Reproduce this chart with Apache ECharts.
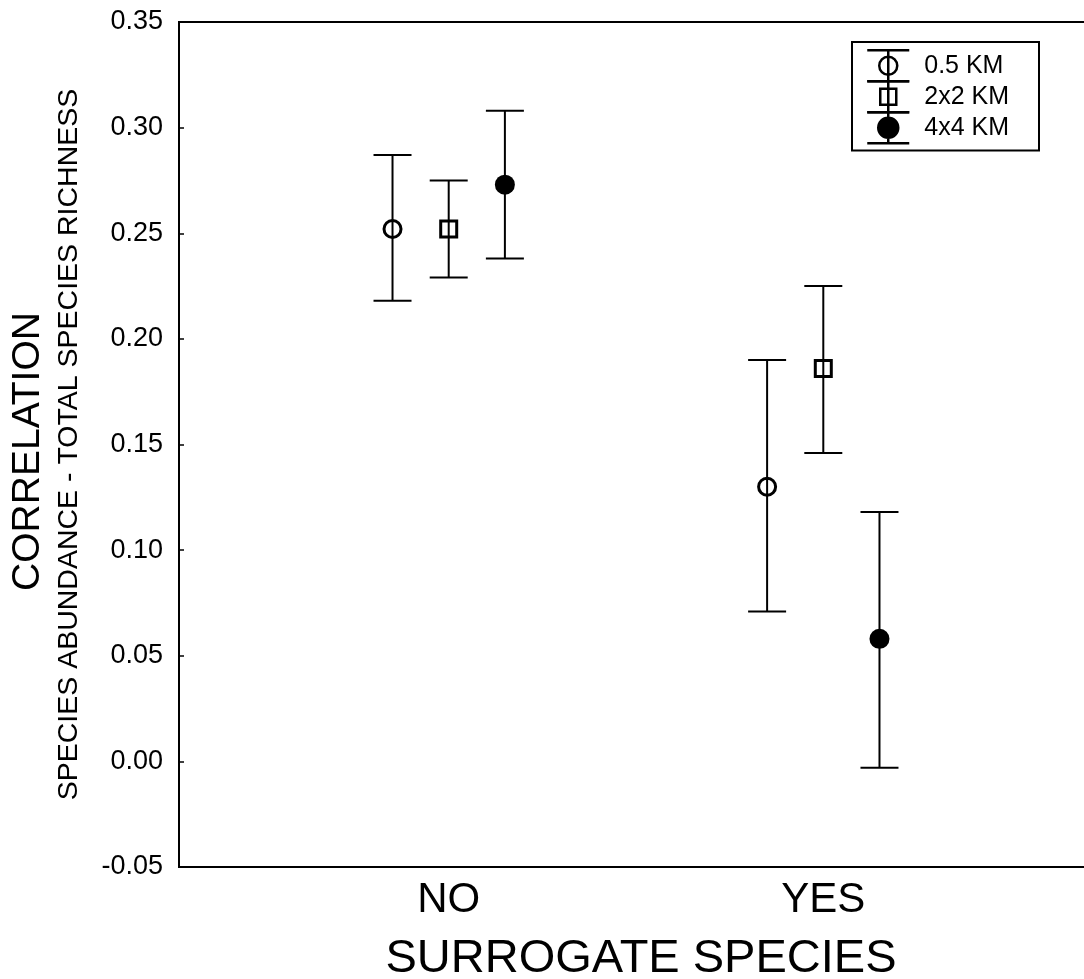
<!DOCTYPE html>
<html><head><meta charset="utf-8">
<script src="https://cdn.jsdelivr.net/npm/echarts@6/dist/echarts.min.js"></script>
<style>html,body{margin:0;padding:0;background:#fff}#c{width:1084px;height:979px}</style>
</head><body><div id="c"></div>
<script>
// ---- data ----
const categories = ['NO', 'YES'];
const sizeNames = ['0.5 KM', '2x2 KM', '4x4 KM'];
const mean05 = [0.252, 0.130];
const low05 = [0.218, 0.071];
const high05 = [0.287, 0.190];
const mean2x2 = [0.252, 0.186];
const low2x2 = [0.229, 0.146];
const high2x2 = [0.275, 0.225];
const mean4x4 = [0.273, 0.058];
const low4x4 = [0.238, -0.003];
const high4x4 = [0.308, 0.118];

// ---- layout / style ----
const FONT = "'Liberation Sans', Arial, sans-serif";
const groupOffset = [-0.15, 0, 0.15];
const means = [mean05, mean2x2, mean4x4];
const lows = [low05, low2x2, low4x4];
const highs = [high05, high2x2, high4x4];
const symbols = ['circle', 'rect', 'circle'];
const fills = ['rgba(0,0,0,0)', 'rgba(0,0,0,0)', '#000'];
const sizes = [17, 16, 20];

const legendIcons = [
  'path://M0,0 L42,0 M0,31 L42,31 M21,0 L21,31 M30,15.5 A9,9 0 1 1 12,15.5 A9,9 0 1 1 30,15.5 Z',
  'path://M0,0 L42,0 M0,31 L42,31 M21,0 L21,31 M13,7.5 L29,7.5 L29,23.5 L13,23.5 Z',
  'path://M0,0 L42,0 M0,31 L42,31 M21,0 L21,31 M31,15.5 A10,10 0 1 1 11,15.5 A10,10 0 1 1 31,15.5 Z'
];

function errRender(params, api) {
  const x = api.value(0), lo = api.value(1), hi = api.value(2);
  const pLo = api.coord([x, lo]), pHi = api.coord([x, hi]);
  const hw = 19;
  const style = { stroke: '#000', lineWidth: 2, fill: null };
  return {
    type: 'group', children: [
      { type: 'line', shape: { x1: pLo[0], y1: pLo[1], x2: pHi[0], y2: pHi[1] }, style: style },
      { type: 'line', shape: { x1: pLo[0] - hw, y1: pLo[1], x2: pLo[0] + hw, y2: pLo[1] }, style: style },
      { type: 'line', shape: { x1: pHi[0] - hw, y1: pHi[1], x2: pHi[0] + hw, y2: pHi[1] }, style: style }
    ]
  };
}

const series = [];
for (let s = 0; s < 3; s++) {
  series.push({
    type: 'custom', name: 'err' + s, renderItem: errRender, z: 2,
    encode: { x: 0, y: [1, 2] },
    data: categories.map((c, i) => [i + 1 + groupOffset[s], lows[s][i], highs[s][i]]),
    silent: true
  });
}
for (let s = 0; s < 3; s++) {
  series.push({
    type: 'scatter', name: sizeNames[s], z: 3,
    symbol: symbols[s], symbolSize: sizes[s],
    itemStyle: { color: fills[s], borderColor: '#000', borderWidth: s === 2 ? 0 : 3, opacity: 1 },
    data: categories.map((c, i) => [i + 1 + groupOffset[s], means[s][i]]),
    silent: true
  });
}

const chart = echarts.init(document.getElementById('c'), null, { renderer: 'canvas' });
chart.setOption({
  animation: false,
  backgroundColor: '#fff',
  textStyle: { fontFamily: FONT, color: '#000' },
  grid: {
    left: 179, top: 22, width: 914, height: 845, outerBoundsMode: 'none', containLabel: false,
    show: true, borderColor: '#000', borderWidth: 2, backgroundColor: 'transparent'
  },
  legend: {
    orient: 'vertical', left: 852, top: 42, itemGap: -2.5,
    itemWidth: 42, itemHeight: 31, selectedMode: false,
    padding: [7, 30, 6, 14],
    borderColor: '#000', borderWidth: 2,
    textStyle: { fontSize: 25, color: '#000', fontFamily: FONT, padding: [0, 0, 0, 10] },
    data: sizeNames.map((n, s) => ({
      name: n, icon: legendIcons[s],
      itemStyle: { color: s === 2 ? '#000' : 'rgba(0,0,0,0)', borderColor: '#000', borderWidth: 2.5 }
    }))
  },
  xAxis: {
    type: 'value', min: 0.28, max: 2.72,
    axisLine: { show: true, onZero: false, lineStyle: { color: '#000', width: 2 } },
    axisTick: { show: false },
    splitLine: { show: false },
    axisLabel: {
      customValues: [1, 2], margin: 12, fontSize: 42, color: '#000', fontFamily: FONT,
      formatter: v => categories[Math.round(v) - 1] || ''
    },
    name: 'SURROGATE SPECIES', nameLocation: 'middle', nameGap: 69,
    nameTextStyle: { fontSize: 47, color: '#000', fontFamily: FONT, padding: [0, 0, 0, 10] }
  },
  yAxis: [{
    type: 'value', min: -0.05, max: 0.35, interval: 0.05,
    axisLine: { show: true, onZero: false, lineStyle: { color: '#000', width: 2 } },
    axisTick: { show: true, inside: true, length: 5, lineStyle: { color: '#000', width: 1.5 } },
    splitLine: { show: false },
    axisLabel: { margin: 16, fontSize: 27, color: '#000', fontFamily: FONT, formatter: v => v.toFixed(2) },
    name: 'SPECIES ABUNDANCE - TOTAL SPECIES RICHNESS', nameLocation: 'middle', nameGap: 95,
    nameTextStyle: { fontSize: 28.5, color: '#000', fontFamily: FONT }
  }, {
    type: 'value', min: -0.05, max: 0.35, interval: 0.05, position: 'left',
    axisLine: { show: false }, axisTick: { show: false }, axisLabel: { show: false }, splitLine: { show: false },
    name: 'CORRELATION', nameLocation: 'middle', nameGap: 131,
    nameTextStyle: { fontSize: 39, color: '#000', fontFamily: FONT, padding: [0, 14, 0, 0] }
  }],
  series: series
});
</script>
</body></html>
